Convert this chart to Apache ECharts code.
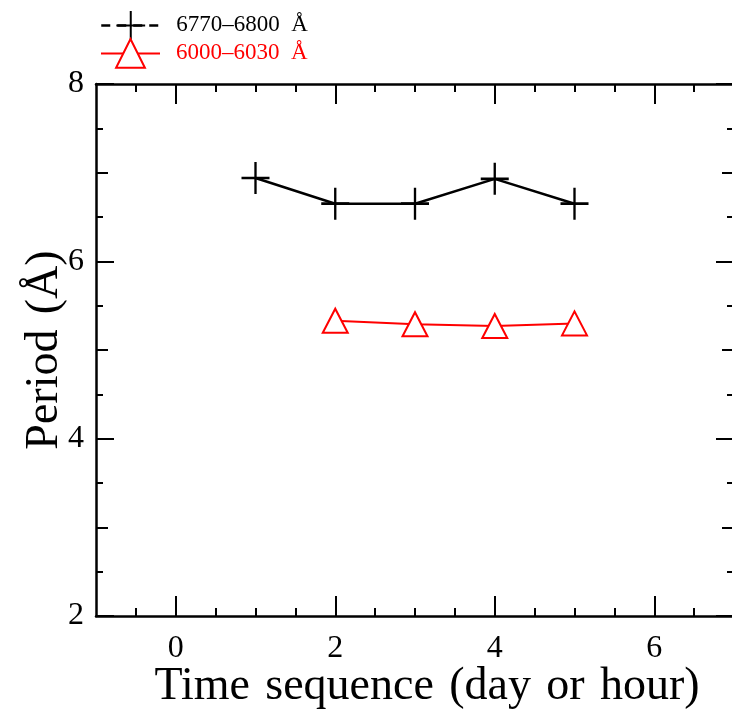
<!DOCTYPE html>
<html>
<head>
<meta charset="utf-8">
<script src="https://cdn.jsdelivr.net/npm/echarts@6/dist/echarts.min.js"></script>
<style>
html, body { margin: 0; padding: 0; background: #fff; }
#chart { width: 732px; height: 713px; }
</style>
</head>
<body>
<div id="chart"></div>
<script>
// values
var seqBlack = [1, 2, 3, 4, 5];
var periodBlack = [6.94, 6.65, 6.65, 6.93, 6.65];
var seqRed = [2, 3, 4, 5];
var periodRed = [5.33, 5.29, 5.27, 5.30];

var nameBlack = "6770\u20136800  \u00c5";
var nameRed = "6000\u20136030  \u00c5";

// tick positions
var xMajorTicks = [0, 2, 4, 6];
var xMinorTicks = [-0.5, 0.5, 1, 1.5, 2.5, 3, 3.5, 4.5, 5, 5.5, 6.5];
var yMajorTicks = [2, 4, 6, 8];
var yMidTicks = [3, 5, 7];
var yMinorTicks = [2.5, 3.5, 4.5, 5.5, 6.5, 7.5];

var font = "Liberation Serif";

function pairs(xs, ys) {
	var out = [];
	for (var i = 0; i < xs.length; i++) out.push([xs[i], ys[i]]);
	return out;
}

function xAx(pos, ticks, len, main) {
	return {
		type: "value", position: pos, min: -1, max: 7,
		splitLine: { show: false },
		axisLine: { show: main, onZero: false, lineStyle: { color: "#000", width: 2.5 } },
		axisTick: { show: true, inside: true, length: len, customValues: ticks,
			lineStyle: { color: "#000", width: 2 } },
		axisLabel: { show: false }
	};
}

function yAx(pos, ticks, len, main) {
	return {
		type: "value", position: pos, min: 2, max: 8,
		splitLine: { show: false },
		axisLine: { show: main, onZero: false, lineStyle: { color: "#000", width: 2.5 } },
		axisTick: { show: true, inside: true, length: len, customValues: ticks,
			lineStyle: { color: "#000", width: 2 } },
		axisLabel: { show: false }
	};
}

function legendBox(name, top, color, dashed) {
	var item = { name: name, textStyle: { color: color } };
	if (dashed) item.lineStyle = { type: [9, 7], width: 2.5, color: color };
	return {
		orient: "vertical", left: 95, top: top,
		itemWidth: 59, itemHeight: 36,
		textStyle: { fontFamily: font, fontSize: 23, padding: [0, 0, 0, 11] },
		data: [item]
	};
}

var sp = " \u200a";

var xBottom = xAx("bottom", xMajorTicks, 20, true);
xBottom.axisLabel = { show: true, customValues: xMajorTicks, margin: 17,
	fontFamily: font, fontSize: 32, color: "#000" };
xBottom.name = "Time" + sp + "sequence" + sp + "(day" + sp + "or" + sp + "hour)";
xBottom.nameLocation = "middle";
xBottom.nameGap = 48;
xBottom.nameMoveOverlap = false;
xBottom.nameTextStyle = { fontFamily: font, fontSize: 46, color: "#000",
	padding: [0, 0, 0, 24] };

var yLeft = yAx("left", yMajorTicks, 18, true);
yLeft.axisLabel = { show: true, customValues: yMajorTicks, margin: 12,
	fontFamily: font, fontSize: 32, color: "#000" };
yLeft.name = "Period" + sp + "(\u00c5)";
yLeft.nameLocation = "middle";
yLeft.nameGap = 28;
yLeft.nameMoveOverlap = false;
yLeft.nameTextStyle = { fontFamily: font, fontSize: 46, color: "#000" };

var chart = echarts.init(document.getElementById("chart"));

var option = {
	animation: false,
	backgroundColor: "#fff",
	grid: { left: 96, right: -2, top: 84, bottom: 97, containLabel: false,
		outerBoundsMode: "none" },
	legend: [
		legendBox(nameBlack, 5, "#000", true),
		legendBox(nameRed, 33, "#f00", false)
	],
	xAxis: [
		xBottom,
		xAx("bottom", xMinorTicks, 8, false),
		xAx("top", xMajorTicks, 20, true),
		xAx("top", xMinorTicks, 8, false)
	],
	yAxis: [
		yLeft,
		yAx("left", yMidTicks, 12, false),
		yAx("left", yMinorTicks, 7, false),
		yAx("right", yMajorTicks, 18, true),
		yAx("right", yMidTicks, 12, false),
		yAx("right", yMinorTicks, 7, false)
	],
	series: [
		{
			name: nameBlack, type: "line", xAxisIndex: 0, yAxisIndex: 0,
			data: pairs(seqBlack, periodBlack),
			symbol: "path://M10,0 L10,20 M0,10 L20,10",
			symbolSize: [28, 32],
			itemStyle: { color: "#000", borderColor: "#000", borderWidth: 2.5 },
			lineStyle: { color: "#000", width: 2.5 }
		},
		{
			name: nameRed, type: "line", xAxisIndex: 0, yAxisIndex: 0,
			data: pairs(seqRed, periodRed),
			symbol: "triangle",
			symbolSize: [25, 24],
			itemStyle: { color: "#fff", borderColor: "#f00", borderWidth: 2 },
			lineStyle: { color: "#f00", width: 2 }
		}
	]
};

chart.setOption(option);
</script>
</body>
</html>
